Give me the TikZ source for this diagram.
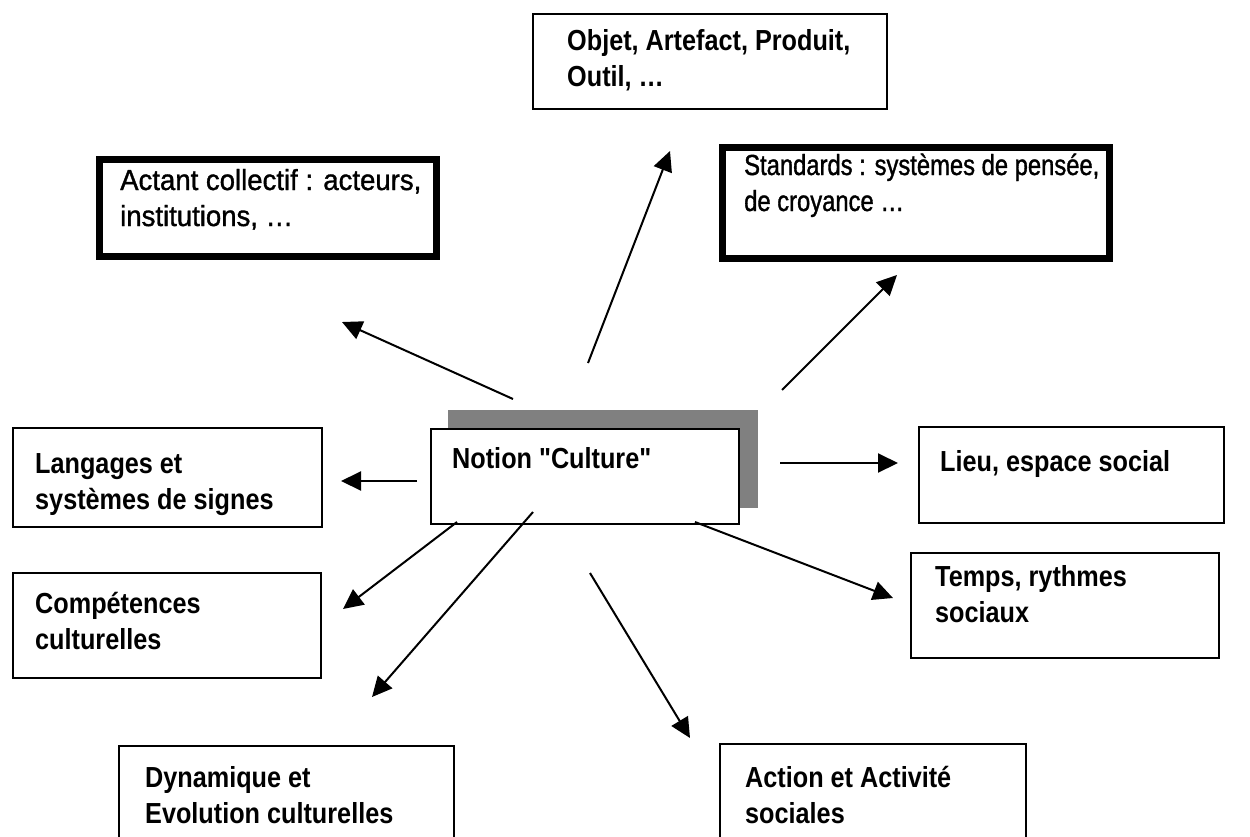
\documentclass[tikz,border=0pt]{standalone}
\usepackage{fontspec}
\setmainfont{Liberation Sans}[FakeStretch=0.87,Ligatures=TeXOff]
\newfontfamily\actantfont{Liberation Sans}[FakeStretch=0.95,FakeBold=1.2,Ligatures=TeXOff]
\newfontfamily\standardfont{Liberation Sans}[FakeStretch=0.82,FakeBold=1.2,Ligatures=TeXOff]
\usepackage{xcolor}
\usetikzlibrary{arrows.meta}

\definecolor{ombregris}{RGB}{128,128,128}

\begin{document}
\begin{tikzpicture}[x=1pt,y=-1pt,
    box/.style={draw,line width=1.6pt,anchor=north west,inner sep=0pt},
    boldbox/.style={box,line width=7pt},
    txt/.style={anchor=base west,inner sep=0pt,align=left,
      font=\fontsize{29}{36}\selectfont\bfseries},
    fine/.style={txt,font=\fontsize{29}{36}\selectfont\mdseries},
    link/.style={line width=2pt,-{Triangle[length=20pt,width=19pt]}}]
  \useasboundingbox (0,0) rectangle (1250,836);

  % boites
  \node[box,minimum width=354pt,minimum height=95pt] (objet) at (532,13) {};
  \node[boldbox,minimum width=337pt,minimum height=97pt] (actant) at (96,156) {};
  \node[boldbox,minimum width=387pt,minimum height=111pt] (standards) at (719,144) {};
  \node[fill=ombregris,anchor=north west,inner sep=0pt,
    minimum width=310pt,minimum height=98pt] (ombre) at (448,410) {};
  \node[box,fill=white,line width=2pt,minimum width=308pt,minimum height=95pt] (notion) at (430,428) {};
  \node[box,minimum width=305pt,minimum height=96pt] (lieu) at (918,426) {};
  \node[box,minimum width=309pt,minimum height=99pt] (langages) at (12,427) {};
  \node[box,minimum width=308pt,minimum height=105pt] (temps) at (910,552) {};
  \node[box,minimum width=308pt,minimum height=105pt] (competences) at (12,572) {};
  \node[box,minimum width=335pt,minimum height=110pt] (dynamique) at (118,745) {};
  \node[box,minimum width=306pt,minimum height=110pt] (action) at (719,743) {};

  % textes (base = ligne du bas)
  \node[txt] (objet-t) at (567,86) {Objet, Artefact, Produit,\\Outil, \ldots};
  \node[fine] (actant-t) at (120,226) {\actantfont Actant collectif : acteurs,\\\actantfont institutions, \ldots};
  \node[fine] (standards-t) at (744,211) {\standardfont Standards : systèmes de pensée,\\\standardfont de croyance \ldots};
  \node[txt] (notion-t) at (452,468) {Notion "Culture"};
  \node[txt] (lieu-t) at (940,471) {Lieu, espace social};
  \node[txt] (langages-t) at (35,509) {Langages et\\systèmes de signes};
  \node[txt] (temps-t) at (935,622) {Temps, rythmes\\sociaux};
  \node[txt] (competences-t) at (35,649) {Compétences\\culturelles};
  \node[txt] (dynamique-t) at (145,823) {Dynamique et\\Evolution culturelles};
  \node[txt] (action-t) at (745,823) {Action et Activité\\sociales};

  % fleches
  \coordinate (actant-a) at (513,399);      \coordinate (actant-b) at (342,322);
  \coordinate (objet-a) at (588,363);       \coordinate (objet-b) at (670,151);
  \coordinate (standards-a) at (782,390);   \coordinate (standards-b) at (897,275);
  \coordinate (lieu-a) at (780,463);        \coordinate (lieu-b) at (898,463);
  \coordinate (langages-a) at (417,481);    \coordinate (langages-b) at (341,481);
  \coordinate (competences-a) at (457,522); \coordinate (competences-b) at (343,609);
  \coordinate (dynamique-a) at (533,512);   \coordinate (dynamique-b) at (372,697);
  \coordinate (action-a) at (590,573);      \coordinate (action-b) at (690,738);
  \coordinate (temps-a) at (695,522);       \coordinate (temps-b) at (893,598);
  \foreach \n in {actant,objet,standards,lieu,langages,competences,dynamique,action,temps}
    \draw[link] (\n-a) -- (\n-b);
\end{tikzpicture}
\end{document}
